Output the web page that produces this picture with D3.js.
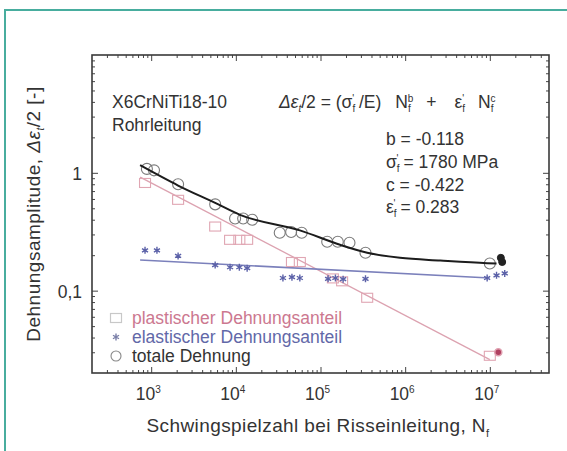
<!DOCTYPE html>
<html><head><meta charset="utf-8">
<script src="https://cdn.jsdelivr.net/npm/d3@7"></script>
<style>
body{margin:0;background:#fff}
svg{display:block}
text{font-family:"Liberation Sans",Arial,Helvetica,sans-serif;}
</style>
</head><body>
<svg id="c" width="567" height="451"></svg>
<script>
// ---------- data ----------
const totalN = [890, 1080, 2080, 5700, 9800, 12200, 15600, 33000, 45000, 60000, 120000, 160000, 220000, 340000, 1.0e7];
const totalV = [1.08, 1.05, 0.80, 0.54, 0.41, 0.41, 0.40, 0.31, 0.315, 0.31, 0.26, 0.26, 0.255, 0.21, 0.17];
const totalRunN = [1.35e7, 1.4e7];
const totalRunV = [0.19, 0.175];

const elasticN = [846, 1170, 2080, 5700, 8550, 11000, 13600, 36000, 46000, 57000, 123000, 150000, 185000, 340000, 9.3e6, 1.2e7, 1.5e7];
const elasticV = [0.22, 0.22, 0.197, 0.165, 0.158, 0.158, 0.155, 0.128, 0.13, 0.128, 0.126, 0.128, 0.125, 0.126, 0.128, 0.135, 0.14];

const plasticN = [846, 2080, 5700, 8550, 11000, 13600, 46000, 57000, 140000, 180000, 356000, 1.0e7];
const plasticV = [0.82, 0.59, 0.35, 0.27, 0.27, 0.27, 0.175, 0.175, 0.127, 0.12, 0.087, 0.028];
const plasticRunN = [1.26e7];
const plasticRunV = [0.03];

// fit lines
const plasticFitN = [740, 1.0e7];
const plasticFitV = [0.92, 0.026];
const elasticFitN = [740, 1.0e7];
const elasticFitV = [0.182, 0.128];
const totalFitN = [740, 2080, 5700, 11200, 57000, 170000, 356000, 870000, 2.6e6, 9.3e6, 1.2e7];
const totalFitV = [1.16, 0.78, 0.555, 0.44, 0.325, 0.245, 0.21, 0.19, 0.18, 0.171, 0.17];

// ticks
const xMajor = [1e3, 1e4, 1e5, 1e6, 1e7];
const xMajorExp = ["3", "4", "5", "6", "7"];
const yMajor = [1, 0.1];
const yMajorLabel = ["1", "0,1"];

// texts
const legendLabels = ["plastischer Dehnungsanteil", "elastischer Dehnungsanteil", "totale Dehnung"];
const materialLabels = ["X6CrNiTi18-10", "Rohrleitung"];

// ---------- chart ----------
const svg = d3.select("#c");
const L = 92, R = 549, T = 55, B = 373;
const x = d3.scaleLog().domain([200, 5e7]).range([L, R]);
const y = d3.scaleLog().domain([0.02, 10]).range([B, T]);

const cPlastic = "#e0a6b3", cPlasticTxt = "#cc7890";
const cElastic = "#5b61a8", cElasticTxt = "#6268a8";
const cTotal = "#1c1c1c";

svg.append("rect").attr("width", 567).attr("height", 451).attr("fill", "#fff");
// teal border
svg.append("rect").attr("x", 5).attr("y", 10).attr("width", 600).attr("height", 480)
  .attr("fill", "none").attr("stroke", "#48ad9e").attr("stroke-width", 2);

// minor tick values
function minors(decades, lo, hi) {
  const out = [];
  decades.forEach(d => { for (let k = 2; k <= 9; k++) { const v = k * d; if (v > lo * 1.0001 && v < hi * 0.9999) out.push(v); } });
  return out;
}
const xMinor = minors([100, 1e3, 1e4, 1e5, 1e6, 1e7], 200, 5e7);
const yMinor = minors([0.01, 0.1, 1], 0.02, 10);

function tickAxis(gen, vals, size, tr) {
  const g = svg.append("g").attr("transform", tr)
    .call(gen.tickValues(vals).tickSize(size).tickFormat(""));
  g.select(".domain").remove();
  g.selectAll(".tick line").attr("stroke", "#444").attr("stroke-width", 1);
}
tickAxis(d3.axisBottom(x), xMajor, -6, `translate(0,${B})`);
tickAxis(d3.axisBottom(x), xMinor, -3, `translate(0,${B})`);
tickAxis(d3.axisTop(x), xMajor, -6, `translate(0,${T})`);
tickAxis(d3.axisTop(x), xMinor, -3, `translate(0,${T})`);
tickAxis(d3.axisLeft(y), yMajor, -6, `translate(${L},0)`);
tickAxis(d3.axisLeft(y), yMinor, -3, `translate(${L},0)`);
tickAxis(d3.axisRight(y), yMajor, -6, `translate(${R},0)`);
tickAxis(d3.axisRight(y), yMinor, -3, `translate(${R},0)`);

svg.append("rect").attr("x", L).attr("y", T).attr("width", R - L).attr("height", B - T)
  .attr("fill", "none").attr("stroke", "#3a3a3a").attr("stroke-width", 1.6);

// tick labels
const FS = 17.5;
xMajor.forEach((v, i) => {
  const t = svg.append("text").attr("x", x(v) - 3).attr("y", 400).attr("text-anchor", "middle")
    .attr("font-size", FS).attr("fill", "#333");
  t.append("tspan").text("10");
  t.append("tspan").attr("dy", -7).attr("font-size", 10).text(xMajorExp[i]);
});
yMajor.forEach((v, i) => {
  svg.append("text").attr("x", 82).attr("y", y(v) + 7).attr("text-anchor", "end")
    .attr("font-size", FS).attr("fill", "#333").text(yMajorLabel[i]);
});

// axis titles
const xt = svg.append("text").attr("x", 318).attr("y", 432).attr("text-anchor", "middle")
  .attr("font-size", 19).attr("letter-spacing", 0.4).attr("fill", "#333");
xt.append("tspan").text("Schwingspielzahl bei Risseinleitung, N");
xt.append("tspan").attr("dy", 5).attr("font-size", 11).text("f");

const yt = svg.append("text").attr("transform", "translate(40,214) rotate(-90)").attr("text-anchor", "middle")
  .attr("font-size", 19).attr("letter-spacing", 0.5).attr("fill", "#333");
yt.append("tspan").text("Dehnungsamplitude, ");
yt.append("tspan").attr("font-style", "italic").text("Δε");
yt.append("tspan").attr("dy", 4).attr("font-size", 10).attr("font-style", "italic").text("t");
yt.append("tspan").attr("dy", -4).text("/2 [-]");

// fit lines
const line = d3.line().x(d => x(d[0])).y(d => y(d[1]));
svg.append("path").datum(d3.zip(plasticFitN, plasticFitV)).attr("d", line)
  .attr("fill", "none").attr("stroke", "#dca2b0").attr("stroke-width", 1.3);
svg.append("path").datum(d3.zip(elasticFitN, elasticFitV)).attr("d", line)
  .attr("fill", "none").attr("stroke", "#7b80bb").attr("stroke-width", 1.6);

// markers: plastic squares
svg.append("g").selectAll("rect").data(d3.zip(plasticN, plasticV)).join("rect")
  .attr("x", d => x(d[0]) - 5.5).attr("y", d => y(d[1]) - 4.5).attr("width", 11).attr("height", 9)
  .attr("fill", "none").attr("stroke", cPlastic).attr("stroke-width", 1.1);
svg.append("g").selectAll("circle").data(d3.zip(plasticRunN, plasticRunV)).join("circle")
  .attr("cx", d => x(d[0])).attr("cy", d => y(d[1])).attr("r", 3.5)
  .attr("fill", "#b04060").attr("stroke", "#e0a0b0").attr("stroke-width", 1.5);

// elastic asterisks
const star = d3.symbol().type(d3.symbolAsterisk).size(34);
svg.append("g").selectAll("path").data(d3.zip(elasticN, elasticV)).join("path")
  .attr("transform", d => `translate(${x(d[0])},${y(d[1])})`).attr("d", star)
  .attr("fill", "none").attr("stroke", cElastic).attr("stroke-width", 1.4);

// total circles
svg.append("g").selectAll("circle").data(d3.zip(totalN, totalV)).join("circle")
  .attr("cx", d => x(d[0])).attr("cy", d => y(d[1])).attr("r", 5.5)
  .attr("fill", "none").attr("stroke", "#7a7a7a").attr("stroke-width", 1.1);
svg.append("g").selectAll("circle").data(d3.zip(totalRunN, totalRunV)).join("circle")
  .attr("cx", d => x(d[0])).attr("cy", d => y(d[1])).attr("r", 3.5)
  .attr("fill", "#222").attr("stroke", "#222");

// total fit curve
svg.append("path").datum(d3.zip(totalFitN, totalFitV))
  .attr("d", d3.line().x(d => x(d[0])).y(d => y(d[1])).curve(d3.curveMonotoneX))
  .attr("fill", "none").attr("stroke", cTotal).attr("stroke-width", 2);

// material labels
materialLabels.forEach((s, i) => {
  svg.append("text").attr("x", 112).attr("y", 108 + i * 23).attr("font-size", FS).attr("fill", "#333").text(s);
});

// equation
function rich(xp, yp, parts) {
  const t = svg.append("text").attr("x", xp).attr("y", yp).attr("font-size", FS).attr("fill", "#333");
  parts.forEach(p => {
    const s = t.append("tspan").text(p.t);
    if (p.it) s.attr("font-style", "italic");
    if (p.sub) s.attr("font-size", 10).attr("dy", 4);
    if (p.sup) s.attr("font-size", 10).attr("dy", p.dy || -7);
    if (p.dx) s.attr("dx", p.dx);
    if (p.back) s.attr("dy", p.back);
  });
  return t;
}
rich(279, 108, [
  {t: "Δε", it: true}, {t: "t", sub: true, it: true}, {t: "/2 = (σ", back: -4},
  {t: "f", sub: true}, {t: "'", sup: true, dy: -10, dx: -3}, {t: " /E)", back: 6},
  {t: "N", dx: 14}, {t: "f", sub: true}, {t: "b", sup: true, dy: -10, dx: -3},
  {t: "+", back: 6, dx: 13}, {t: "ε", dx: 18},
  {t: "f", sub: true}, {t: "'", sup: true, dy: -10, dx: -3}, {t: "N", back: 6, dx: 14},
  {t: "f", sub: true}, {t: "c", sup: true, dy: -10, dx: -3}
]);
rich(386, 145, [{t: "b  = -0.118"}]);
rich(386, 168, [{t: "σ"}, {t: "f", sub: true}, {t: "'", sup: true, dy: -10, dx: -3}, {t: " = 1780 MPa", back: 6}]);
rich(386, 191, [{t: "c  = -0.422"}]);
rich(386, 213, [{t: "ε"}, {t: "f", sub: true}, {t: "'", sup: true, dy: -10, dx: -3}, {t: " = 0.283", back: 6}]);

// legend
const lgY = [318, 337, 356];
svg.append("rect").attr("x", 110.5).attr("y", lgY[0] - 4.5).attr("width", 11).attr("height", 9)
  .attr("fill", "none").attr("stroke", "#c8c8c8").attr("stroke-width", 1.2);
svg.append("path").attr("transform", `translate(116,${lgY[1]})`).attr("d", star)
  .attr("fill", "none").attr("stroke", "#7a7fa8").attr("stroke-width", 1.4);
svg.append("circle").attr("cx", 116).attr("cy", lgY[2]).attr("r", 5)
  .attr("fill", "none").attr("stroke", "#888").attr("stroke-width", 1.1);
const lgColors = [cPlasticTxt, cElasticTxt, "#333"];
legendLabels.forEach((s, i) => {
  svg.append("text").attr("x", 132).attr("y", lgY[i] + 6).attr("font-size", FS).attr("fill", lgColors[i]).text(s);
});
</script>
</body></html>
